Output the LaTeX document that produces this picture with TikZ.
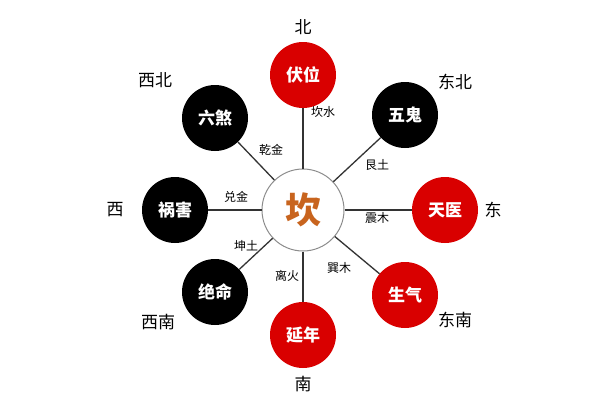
\documentclass[tikz,border=0pt]{standalone}
\usepackage{fontspec}
\newfontfamily\cjk{Noto Sans CJK SC}
\begin{document}
\begin{tikzpicture}[x=1pt,y=-1pt,
  outer/.style={circle,minimum size=66pt,inner sep=0pt,font=\cjk\fontsize{17}{17}\selectfont\bfseries,text=white},
  rednode/.style={outer,fill=red!85!black},
  blacknode/.style={outer,fill=black},
  dir/.style={font=\cjk\fontsize{17}{17}\selectfont},
  lab/.style={font=\cjk\fontsize{12}{12}\selectfont,inner sep=1pt},
  conn/.style={draw=black!80,line width=1.3pt}]
\useasboundingbox (0,0) rectangle (600,400);
\fill[white] (0,0) rectangle (600,400);
\node[circle,minimum size=82pt,draw=black!45,line width=1pt,fill=white,text={rgb,255:red,200;green,100;blue,30},font=\cjk\fontsize{36}{36}\selectfont\bfseries] (c) at (303,210) {坎};
\node[rednode] (n) at (303,75) {伏位};
\node[blacknode] (ne) at (405,115) {五鬼};
\node[rednode] (e) at (445,210) {天医};
\node[rednode] (se) at (405,295) {生气};
\node[rednode] (s) at (303,335) {延年};
\node[blacknode] (sw) at (215,292) {绝命};
\node[blacknode] (w) at (175,210) {祸害};
\node[blacknode] (nw) at (215,118) {六煞};
\foreach \t in {n,ne,e,se,s,sw,w,nw} \draw[conn] (c) -- (\t);
\node[dir] (dn) at (303,27) {北};
\node[dir] (dne) at (455,82) {东北};
\node[dir] (de) at (493,210) {东};
\node[dir] (dse) at (455,320) {东南};
\node[dir] (ds) at (303,384) {南};
\node[dir] (dsw) at (158,322) {西南};
\node[dir] (dw) at (115,210) {西};
\node[dir] (dnw) at (155,80) {西北};
\node[lab] (l1) at (323,112) {坎水};
\node[lab] (l2) at (271,150) {乾金};
\node[lab] (l3) at (377,165) {艮土};
\node[lab] (l4) at (236,197) {兑金};
\node[lab] (l5) at (377,218) {震木};
\node[lab] (l6) at (246,246) {坤土};
\node[lab] (l7) at (287,276) {离火};
\node[lab] (l8) at (339,268) {巽木};
\end{tikzpicture}
\end{document}
